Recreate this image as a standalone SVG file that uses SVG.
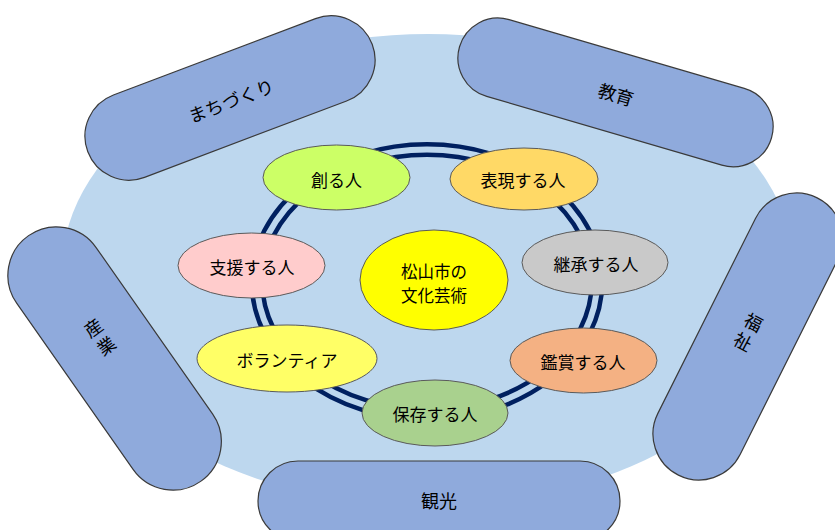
<svg xmlns="http://www.w3.org/2000/svg" width="835" height="530" viewBox="0 0 835 530">
  <style>
    .cap { fill: #8FAADC; stroke: #3A3A3A; stroke-width: 1.2; }
    .node { stroke: #5A5A5A; stroke-width: 1; }
    .t { font-family: "Noto Sans CJK JP", "Noto Sans", sans-serif; fill: #000; text-anchor: middle; dominant-baseline: central; }
    .tn { font-size: 17px; }
    .tc { font-size: 18px; }
  </style>
  <rect width="835" height="530" fill="#FFFFFF"/>
  <ellipse id="bg" cx="428" cy="270" rx="366" ry="236" fill="#BDD7EE"/>

  <g id="machizukuri" transform="translate(230,98) rotate(-20.7)">
    <rect class="cap" x="-152" y="-44" width="304" height="88" rx="44"/>
    <text class="t tc" x="0" y="2">まちづくり</text>
  </g>
  <g id="kyouiku" transform="translate(615.5,92.4) rotate(16.3)">
    <rect class="cap" x="-162.5" y="-40" width="325" height="80" rx="40"/>
    <text class="t tc" x="1" y="1">教育</text>
  </g>
  <g id="sangyou">
    <rect class="cap" x="-150" y="-48.5" width="300" height="97" rx="48.5" transform="translate(114.6,358.5) rotate(55)"/>
    <g transform="translate(99,336) rotate(-36)">
      <text class="t tc" x="0" y="-11">産</text>
      <text class="t tc" x="0" y="11">業</text>
    </g>
  </g>
  <g id="fukushi">
    <rect class="cap" x="-155" y="-46" width="310" height="92" rx="46" transform="translate(747.8,336.5) rotate(-63.4)"/>
    <g transform="translate(748.7,331) rotate(28)">
      <text class="t tc" x="0" y="-11">福</text>
      <text class="t tc" x="0" y="11">祉</text>
    </g>
  </g>
  <g id="kankou">
    <rect class="cap" x="258" y="461" width="362" height="80" rx="40"/>
    <text class="t tc" x="439" y="500">観光</text>
  </g>

  <g id="connectors">
    <ellipse cx="427" cy="282" rx="170" ry="132.5" fill="none" stroke="#002060" stroke-width="15"/>
    <ellipse cx="427" cy="282" rx="170" ry="132.5" fill="none" stroke="#BDD7EE" stroke-width="6"/>
  </g>

  <g id="tsukuru">
    <ellipse class="node" cx="336.5" cy="177.5" rx="73.5" ry="32.5" fill="#CCFF66"/>
    <text class="t tn" x="336.5" y="179">創る人</text>
  </g>
  <g id="hyougen">
    <ellipse class="node" cx="524" cy="179" rx="74" ry="31" fill="#FFD966"/>
    <text class="t tn" x="523" y="179">表現する人</text>
  </g>
  <g id="shien">
    <ellipse class="node" cx="251.5" cy="265.5" rx="73.5" ry="32.5" fill="#FFCCCC"/>
    <text class="t tn" x="252" y="266">支援する人</text>
  </g>
  <g id="center">
    <ellipse class="node" cx="434" cy="280" rx="74" ry="50" fill="#FFFF00"/>
    <text class="t" style="font-size:16.5px" x="434" y="270.5">松山市の</text>
    <text class="t" style="font-size:16.5px" x="434" y="294.5">文化芸術</text>
  </g>
  <g id="keishou">
    <ellipse class="node" cx="595" cy="262.5" rx="73" ry="32.5" fill="#C9C9C9"/>
    <text class="t tn" x="596" y="263">継承する人</text>
  </g>
  <g id="volunteer">
    <ellipse class="node" cx="287" cy="358.5" rx="90" ry="33.5" fill="#FFFF66"/>
    <text class="t tn" x="287" y="359">ボランティア</text>
  </g>
  <g id="kanshou">
    <ellipse class="node" cx="583.5" cy="360.5" rx="73.5" ry="32.5" fill="#F4B183"/>
    <text class="t tn" x="583" y="361.5">鑑賞する人</text>
  </g>
  <g id="hozon">
    <ellipse class="node" cx="435" cy="413" rx="73" ry="33" fill="#A9D18E"/>
    <text class="t tn" x="435" y="413">保存する人</text>
  </g>
</svg>
